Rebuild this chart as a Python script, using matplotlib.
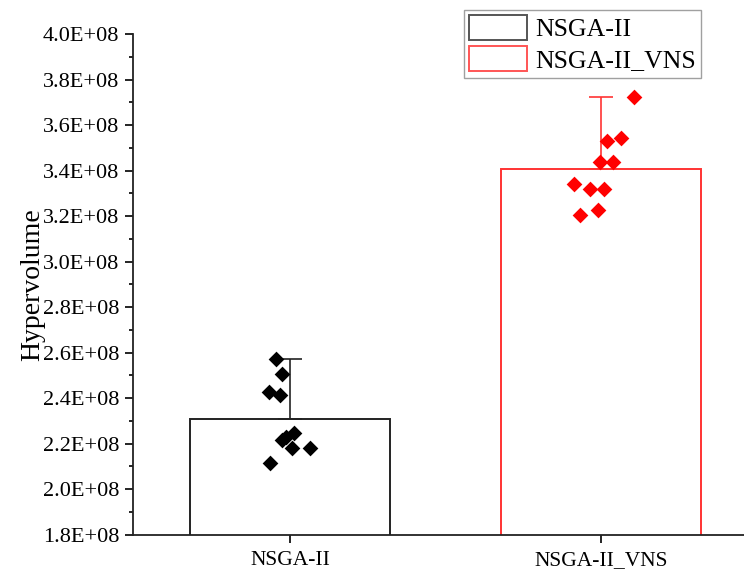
import matplotlib
matplotlib.use("Agg")
import matplotlib.pyplot as plt
from matplotlib.patches import Patch
from matplotlib.ticker import MultipleLocator, FuncFormatter

plt.rcParams['font.family'] = ['Liberation Serif', 'DejaVu Serif']

# ---- data ----
categories = ["NSGA-II", "NSGA-II_VNS"]
bar_means = [2.308e8, 3.408e8]
err_upper = [0.265e8, 0.316e8]

pts_nsga = [2.570e8, 2.507e8, 2.427e8, 2.415e8, 2.249e8, 2.229e8, 2.215e8, 2.181e8, 2.181e8, 2.117e8]
jit_nsga = [-0.045, -0.025, -0.067, -0.031, 0.014, -0.013, -0.027, 0.007, 0.065, -0.064]
pts_vns = [3.724e8, 3.529e8, 3.545e8, 3.437e8, 3.437e8, 3.341e8, 3.321e8, 3.317e8, 3.203e8, 3.225e8]
jit_vns = [0.105, 0.018, 0.065, -0.004, 0.038, -0.086, -0.036, 0.011, -0.068, -0.011]

edge_colors = ["#222222", "#ff3333"]
point_colors = ["#000000", "#ff0000"]
legend_edges = ["#555555", "#ff5555"]

W, H = 744, 574
fig = plt.figure(figsize=(W / 100, H / 100), dpi=100)
ax = fig.add_axes([133.3 / W, (H - 534.7) / H, 1 - 133.3 / W, (534.7 - 34) / H])

xpos = [1, 2]
for i in range(2):
    ax.bar(xpos[i], bar_means[i], width=0.643, bottom=0, facecolor="white",
           edgecolor=edge_colors[i], linewidth=1.4, zorder=2)
    ax.errorbar(xpos[i], bar_means[i], yerr=[[0], [err_upper[i]]], fmt="none",
                ecolor=edge_colors[i], elinewidth=1.2, capsize=8.5, capthick=1.2, zorder=3)

ax.scatter([xpos[0] + j for j in jit_nsga], pts_nsga, marker="D", s=64,
           color=point_colors[0], zorder=4, linewidths=0)
ax.scatter([xpos[1] + j for j in jit_vns], pts_vns, marker="D", s=64,
           color=point_colors[1], zorder=4, linewidths=0)

ax.set_xlim(0.496, 2.46)
ax.set_ylim(1.8e8, 4.0e8)
ax.set_xticks(xpos)
ax.set_xticklabels(categories, fontsize=15.5)
ax.yaxis.set_major_locator(MultipleLocator(0.2e8))
ax.yaxis.set_minor_locator(MultipleLocator(0.1e8))
ax.yaxis.set_major_formatter(FuncFormatter(lambda v, p: f"{v:.1E}"))
ax.tick_params(axis="y", which="major", direction="out", length=6, width=1.2, labelsize=16, pad=4)
ax.tick_params(axis="y", which="minor", direction="out", length=3, width=1.2)
ax.tick_params(axis="x", which="major", direction="out", length=6, width=1.2, pad=6)

for s in ["top", "right"]:
    ax.spines[s].set_visible(False)
for s in ["left", "bottom"]:
    ax.spines[s].set_linewidth(1.3)
    ax.spines[s].set_color("#222222")

ax.set_ylabel("Hypervolume", fontsize=20)
ax.yaxis.set_label_coords(-0.145, 0.5)

handles = [Patch(facecolor="white", edgecolor=legend_edges[0], linewidth=1.4),
           Patch(facecolor="white", edgecolor=legend_edges[1], linewidth=1.4)]
leg = fig.legend(handles, categories, loc="upper left",
                 bbox_to_anchor=(464 / W, 1 - 10 / H), fontsize=18.5,
                 frameon=True, fancybox=False, handlelength=2.26, handleheight=1.1,
                 handletextpad=0.3, labelspacing=0.2, borderpad=0.2, borderaxespad=0)
leg.get_frame().set_edgecolor("#888888")
leg.get_frame().set_linewidth(1.0)

fig.savefig("out.png", dpi=100)
